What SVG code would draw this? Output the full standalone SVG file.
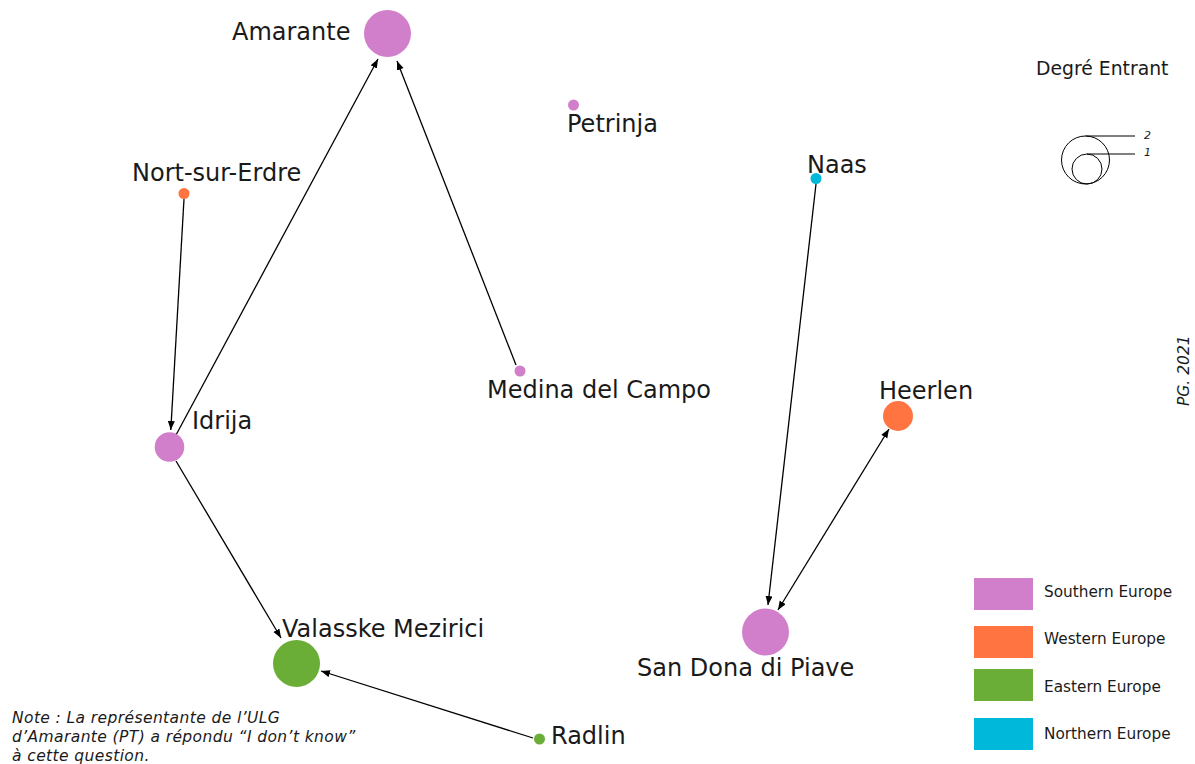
<svg xmlns="http://www.w3.org/2000/svg" width="1195" height="764" viewBox="0 0 1195 764">
<style>
.lbl{font-family:"DejaVu Sans","Liberation Sans",sans-serif;font-size:24px;fill:#1a1a1a}
.leg{font-family:"DejaVu Sans","Liberation Sans",sans-serif;font-size:15.3px;fill:#1a1a1a}
.note{font-family:"DejaVu Sans","Liberation Sans",sans-serif;font-size:15.5px;font-style:italic;fill:#1a1a1a}
.south{fill:#D17ECB}.west{fill:#FF7440}.east{fill:#6AAE38}.north{fill:#00B8D9}
.edge{stroke:#000;stroke-width:1.3;fill:none;marker-end:url(#arr)}
.sz{fill:none;stroke:#000;stroke-width:1}
</style>
<defs>
<marker id="arr" markerUnits="userSpaceOnUse" markerWidth="10" markerHeight="8" refX="9" refY="3.5" orient="auto-start-reverse">
<path d="M0,0 L9,3.5 L0,7 Z" fill="#000"/>
</marker>
</defs>
<rect width="1195" height="764" fill="#fff"/>
<g id="connectors">
<line class="edge" x1="184" y1="199" x2="170.8" y2="430"/>
<line class="edge" x1="176" y1="435" x2="378" y2="59"/>
<line class="edge" x1="516" y1="365" x2="397" y2="61"/>
<line class="edge" x1="176" y1="461" x2="281" y2="638"/>
<line class="edge" x1="533" y1="738" x2="321" y2="671"/>
<line class="edge" x1="816" y1="184" x2="768" y2="605"/>
<line class="edge" x1="778" y1="610" x2="889" y2="429" style="marker-start:url(#arr)"/>
</g>
<g id="node-amarante"><circle class="south" cx="387.5" cy="33.5" r="23.5"/><text class="lbl" x="232" y="40">Amarante</text></g>
<g id="node-petrinja"><circle class="south" cx="573.5" cy="105" r="5.5"/><text class="lbl" x="567" y="132">Petrinja</text></g>
<g id="node-nort"><circle class="west" cx="184" cy="193.5" r="5.5"/><text class="lbl" x="132" y="181">Nort-sur-Erdre</text></g>
<g id="node-naas"><circle class="north" cx="816" cy="178.5" r="5.5"/><text class="lbl" x="807" y="173">Naas</text></g>
<g id="node-medina"><circle class="south" cx="520" cy="371" r="5.5"/><text class="lbl" x="487" y="398">Medina del Campo</text></g>
<g id="node-idrija"><circle class="south" cx="169.5" cy="447" r="14.8"/><text class="lbl" x="192" y="429">Idrija</text></g>
<g id="node-heerlen"><circle class="west" cx="898" cy="416" r="15"/><text class="lbl" x="879" y="399">Heerlen</text></g>
<g id="node-valasske"><circle class="east" cx="296.5" cy="663.5" r="23.5"/><text class="lbl" x="282" y="637">Valasske Mezirici</text></g>
<g id="node-sandona"><circle class="south" cx="765.5" cy="632" r="23.5"/><text class="lbl" x="637" y="676">San Dona di Piave</text></g>
<g id="node-radlin"><circle class="east" cx="539.5" cy="739" r="5.5"/><text class="lbl" x="551" y="744">Radlin</text></g>
<g id="legend-size">
<text class="leg" x="1036" y="75" style="font-size:18.8px">Degré Entrant</text>
<circle class="sz" cx="1085.5" cy="160" r="24"/>
<circle class="sz" cx="1087" cy="169" r="15"/>
<line class="sz" x1="1085.5" y1="136" x2="1135" y2="136"/>
<line class="sz" x1="1087" y1="154" x2="1135" y2="154"/>
<text class="note" x="1144" y="139" style="font-size:11px">2</text>
<text class="note" x="1144" y="156" style="font-size:11px">1</text>
</g>
<g id="legend-colour">
<rect class="south" x="974" y="578" width="59" height="32"/>
<text class="leg" x="1044" y="597">Southern Europe</text>
<rect class="west" x="974" y="626" width="59" height="32"/>
<text class="leg" x="1044" y="644">Western Europe</text>
<rect class="east" x="974" y="669" width="59" height="32"/>
<text class="leg" x="1044" y="692">Eastern Europe</text>
<rect class="north" x="974" y="718" width="59" height="32"/>
<text class="leg" x="1044" y="739">Northern Europe</text>
</g>
<g id="note">
<text class="note" x="12" y="723" style="letter-spacing:0.4px">Note : La représentante de l’ULG</text>
<text class="note" x="12" y="742" style="letter-spacing:0.4px">d’Amarante (PT) a répondu “I don’t know”</text>
<text class="note" x="12" y="761" style="letter-spacing:0.4px">à cette question.</text>
</g>
<text class="note" transform="translate(1189,406) rotate(-90)" style="font-size:15.5px">PG. 2021</text>
</svg>
